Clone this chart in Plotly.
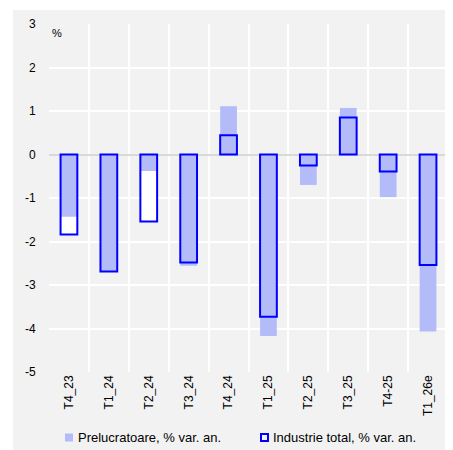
import plotly.graph_objects as go

categories = ["T4_23", "T1_24", "T2_24", "T3_24", "T4_24", "T1_25", "T2_25", "T3_25", "T4-25", "T1_26e"]
prelucratoare = [-1.43, -2.69, -0.38, -2.56, 1.11, -4.17, -0.70, 1.07, -0.98, -4.07]
industrie = [-1.84, -2.69, -1.54, -2.48, 0.44, -3.73, -0.25, 0.85, -0.39, -2.54]
y_ticks = [-5, -4, -3, -2, -1, 0, 1, 2, 3]
y_tick_labels = [str(v) for v in y_ticks]
legend_labels = ["Prelucratoare, % var. an.", "Industrie total, % var. an."]

# page body has an 8px margin; figure is laid out in page pixels minus that offset
OFF = 8
W, H = 453 - OFF, 450 - OFF
L, R, T, B = 49 - OFF, 5, 24 - OFF, 78
pw, ph = W - L - R, H - T - B

fill_col = "#b3bcf8"
line_col = "#0000ff"
bw = 0.42


def px_x(p):
    return (p - OFF - L) / pw


def px_y(p):
    return (H - B - (p - OFF)) / ph


fig = go.Figure()
fig.add_trace(go.Bar(x=categories, y=industrie, width=bw, marker=dict(color="white", line=dict(width=0)),
                     showlegend=False, hoverinfo="skip"))
fig.add_trace(go.Bar(x=categories, y=prelucratoare, width=bw, name=legend_labels[0],
                     marker=dict(color=fill_col, line=dict(width=0))))
fig.add_trace(go.Bar(x=categories, y=industrie, width=bw, name=legend_labels[1],
                     marker=dict(color="rgba(0,0,0,0)", line=dict(color=line_col, width=2))))

# white outer strips (left and top) over gray paper
fig.add_shape(type="rect", xref="paper", yref="paper", x0=px_x(0), x1=px_x(13), y0=px_y(460), y1=px_y(0),
              fillcolor="white", line=dict(width=0), layer="above")
fig.add_shape(type="rect", xref="paper", yref="paper", x0=px_x(0), x1=px_x(460), y0=px_y(10), y1=px_y(0),
              fillcolor="white", line=dict(width=0), layer="above")

# legend (manual)
ly = px_y(437.5)
fig.add_shape(type="rect", xref="paper", yref="paper", x0=px_x(65), x1=px_x(73), y0=ly - 4 / ph, y1=ly + 4 / ph,
              fillcolor=fill_col, line=dict(width=0), layer="above")
fig.add_shape(type="rect", xref="paper", yref="paper", x0=px_x(261), x1=px_x(268), y0=ly - 3.5 / ph, y1=ly + 3.5 / ph,
              fillcolor="rgba(0,0,0,0)", line=dict(width=2, color=line_col), layer="above")
fig.add_annotation(text=legend_labels[0], xref="paper", yref="paper", x=px_x(76), y=ly, xanchor="left",
                   yanchor="middle", showarrow=False, font=dict(size=13, color="#000"))
fig.add_annotation(text=legend_labels[1], xref="paper", yref="paper", x=px_x(271), y=ly, xanchor="left",
                   yanchor="middle", showarrow=False, font=dict(size=13, color="#000"))

fig.add_annotation(text="%", xref="paper", yref="paper", x=0, y=1, xanchor="left", yanchor="top",
                   xshift=1, yshift=-1, showarrow=False, font=dict(size=11, color="#000"))

fig.update_layout(
    width=W, height=H, margin=dict(l=L, r=R, t=T, b=B, autoexpand=False),
    paper_bgcolor="#f2f2f2", plot_bgcolor="#f2f2f2",
    barmode="overlay",
    font=dict(family="Liberation Sans, Arial, sans-serif", size=12, color="#000"),
    xaxis=dict(type="category", tickson="boundaries", showgrid=True, gridcolor="white", gridwidth=1.5,
               tickangle=-90, ticks="outside", ticklen=8, tickcolor="rgba(0,0,0,0)",
               showline=False, zeroline=False, range=[-0.5, 9.5]),
    yaxis=dict(range=[-5, 3], tickvals=y_ticks, ticktext=y_tick_labels, showgrid=True,
               gridcolor="white", gridwidth=1.5, zeroline=True, zerolinecolor="#d9d9d9", zerolinewidth=2,
               ticks="outside", ticklen=10, tickcolor="rgba(0,0,0,0)", showline=False),
    showlegend=False,
)

fig.write_html("out.html")
